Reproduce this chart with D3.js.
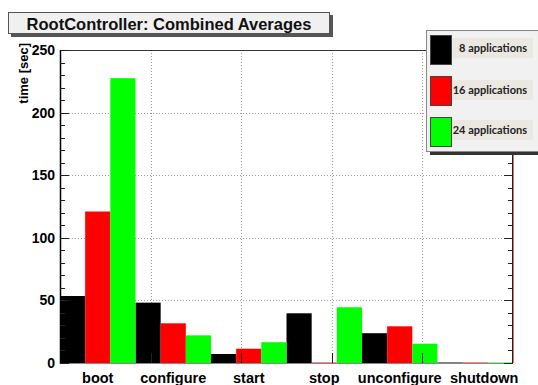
<!DOCTYPE html>
<html>
<head>
<meta charset="utf-8">
<script src="https://cdn.jsdelivr.net/npm/d3@7"></script>
<style>
  html, body { margin: 0; padding: 0; background: #ffffff; }
  svg { display: block; }
</style>
</head>
<body>
<svg id="chart" width="538" height="385"></svg>
<script>
// ---- data ----
const categories = ["boot", "configure", "start", "stop", "unconfigure", "shutdown"];
const seriesNames = ["8 applications", "16 applications", "24 applications"];
const apps8  = [53.5, 48.2, 7.2, 39.7, 23.8, 0.4];
const apps16 = [121, 31.7, 11.4, 0.4, 29.3, 0.4];
const apps24 = [227.5, 22.1, 16.6, 44.5, 15.4, 0.4];
const yTicks = [0, 50, 100, 150, 200, 250];
const seriesColors = ["#000000", "#ff0000", "#00ff00"];

const series = [apps8, apps16, apps24];

const svg = d3.select("#chart");
const pL = 60, pR = 513, pT = 50, pB = 363;

const x = d3.scaleBand().domain(categories).range([pL, pR]).paddingInner(0).paddingOuter(0);
const xs = d3.scaleBand().domain(d3.range(series.length)).range([0, x.bandwidth()]).padding(0);
const y = d3.scaleLinear().domain([0, 250]).range([pB, pT]);
// axis division scale (ROOT-like 5 primary divisions across the frame)
const xDiv = d3.scaleLinear().domain([0, 5]).range([pL, pR]);

// plot background
svg.append("rect").attr("x", pL).attr("y", pT).attr("width", pR - pL).attr("height", pB - pT).attr("fill", "#ffffff");

// grid lines
const grid = svg.append("g").attr("stroke", "#9a9a9a").attr("stroke-width", 1).attr("stroke-dasharray", "1,2");
yTicks.filter(t => t > 0 && t < 250).forEach(t => {
  grid.append("line").attr("x1", pL).attr("x2", pR).attr("y1", Math.round(y(t)) + 0.5).attr("y2", Math.round(y(t)) + 0.5);
});
[1, 2, 3, 4].forEach(d => {
  grid.append("line").attr("x1", Math.round(xDiv(d)) + 0.5).attr("x2", Math.round(xDiv(d)) + 0.5).attr("y1", pT).attr("y2", pB);
});

// bars
series.forEach((vals, si) => {
  svg.append("g").selectAll("rect").data(vals).join("rect")
    .attr("x", (d, i) => x(categories[i]) + xs(si))
    .attr("y", d => y(d))
    .attr("width", xs.bandwidth())
    .attr("height", d => pB - y(d))
    .attr("fill", seriesColors[si]);
});

// frame
const frame = svg.append("g").attr("stroke", "#000").attr("fill", "none");
frame.append("line").attr("x1", pL + 0.5).attr("x2", pL + 0.5).attr("y1", pT).attr("y2", pB + 1).attr("stroke-width", 1.5);
frame.append("line").attr("x1", pL).attr("x2", pR).attr("y1", pT + 0.5).attr("y2", pT + 0.5).attr("stroke", "#333");
frame.append("line").attr("x1", pR - 0.5).attr("x2", pR - 0.5).attr("y1", pT).attr("y2", pB).attr("stroke", "#222");
svg.append("line").attr("x1", pR + 0.5).attr("x2", pR + 0.5).attr("y1", pT).attr("y2", pB).attr("stroke", "#e07070").attr("stroke-width", 1);
svg.append("line").attr("x1", pL).attr("x2", pR).attr("y1", pB + 0.5).attr("y2", pB + 0.5).attr("stroke", "#888");

// y axis ticks (left & right, drawn inward)
const minor = d3.range(0, 251, 10);
const tk = svg.append("g").attr("stroke", "#222").attr("stroke-width", 1);
minor.forEach(t => {
  const major = t % 50 === 0;
  const len = major ? 9 : 5;
  const yy = Math.round(y(t)) + 0.5;
  tk.append("line").attr("x1", pL).attr("x2", pL + len).attr("y1", yy).attr("y2", yy);
  tk.append("line").attr("x1", pR).attr("x2", pR - len).attr("y1", yy).attr("y2", yy);
});
// x division ticks
[1, 2, 3, 4].forEach(d => {
  const xx = Math.round(xDiv(d)) + 0.5;
  tk.append("line").attr("x1", xx).attr("x2", xx).attr("y1", pB).attr("y2", pB - 10);
});

// y tick labels
svg.append("g").selectAll("text").data(yTicks).join("text")
  .attr("x", 55).attr("y", d => y(d)).attr("dy", "0.36em")
  .attr("text-anchor", "end")
  .attr("font-family", "Liberation Sans, Arial, sans-serif").attr("font-weight", "bold").attr("font-size", 14)
  .attr("fill", "#000").text(d => d);

// x labels
svg.append("g").selectAll("text").data(categories).join("text")
  .attr("x", (d, i) => x(d) + x.bandwidth() / 2 + (i === 5 ? 9 : 0))
  .attr("y", 383)
  .attr("text-anchor", "middle")
  .attr("font-family", "Liberation Sans, Arial, sans-serif").attr("font-weight", "bold").attr("font-size", 14.5)
  .attr("fill", "#000").text(d => d);

// y axis title
svg.append("text")
  .attr("transform", "translate(28,43) rotate(-90)")
  .attr("text-anchor", "end")
  .attr("font-family", "Liberation Sans, Arial, sans-serif").attr("font-weight", "bold").attr("font-size", 13)
  .attr("fill", "#000").text("time [sec]");

// title box
svg.append("rect").attr("x", 11).attr("y", 15).attr("width", 322).attr("height", 22).attr("fill", "#555");
svg.append("rect").attr("x", 8.5).attr("y", 12.5).attr("width", 321).attr("height", 21).attr("fill", "#f0f0f0").attr("stroke", "#555");
svg.append("text").attr("x", 169).attr("y", 29.5)
  .attr("text-anchor", "middle")
  .attr("font-family", "Liberation Sans, Arial, sans-serif").attr("font-weight", "bold").attr("font-size", 16.5)
  .attr("fill", "#111").text("RootController: Combined Averages");

// legend
const lg = svg.append("g");
lg.append("rect").attr("x", 430).attr("y", 34).attr("width", 120).attr("height", 121).attr("fill", "#333");
lg.append("rect").attr("x", 426.5).attr("y", 30.5).attr("width", 120).attr("height", 121).attr("fill", "#f1f1f1").attr("stroke", "#888");
const swY = [35, 76, 117];
const txtY = [38, 80, 120];
seriesNames.forEach((name, i) => {
  lg.append("rect").attr("x", 452).attr("y", txtY[i]).attr("width", 81).attr("height", 20).attr("fill", "#ebe8e2");
  lg.append("rect").attr("x", 430.5).attr("y", swY[i] + 0.5).attr("width", 21).attr("height", 29)
    .attr("fill", seriesColors[i]).attr("stroke", "#444");
  lg.append("text").attr("x", 527).attr("y", txtY[i] + 14)
    .attr("text-anchor", "end")
    .attr("font-family", "Lato, 'Open Sans', sans-serif").attr("font-weight", "bold").attr("font-size", 11)
    .attr("fill", "#222").text(name);
});
</script>
</body>
</html>
